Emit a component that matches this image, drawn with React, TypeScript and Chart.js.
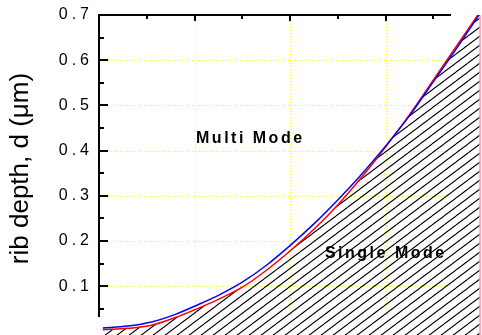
import React, { useEffect, useRef } from 'react';
import { Chart, registerables } from 'chart.js';

Chart.register(...registerables);

// ---- data ----
const widthValues = [0.04, 0.3, 0.55, 0.8, 1.0, 1.25, 1.5, 1.75, 2.0, 2.25, 2.5, 2.75, 3.0, 3.25, 3.5, 3.75, 3.985];
const blueDepth = [0.008, 0.012, 0.021, 0.038, 0.056, 0.08, 0.109, 0.146, 0.19, 0.238, 0.291, 0.348, 0.41, 0.477, 0.552, 0.628, 0.702];
const redDepth = [0.004, 0.007, 0.014, 0.031, 0.048, 0.071, 0.098, 0.135, 0.178, 0.226, 0.28, 0.341, 0.408, 0.479, 0.556, 0.633, 0.706];
const edgeWidth = [3.99, 3.99];
const edgeDepth = [-0.02, 0.71];

const yTickValues = [0.1, 0.2, 0.3, 0.4, 0.5, 0.6, 0.7];
const yTickLabels = ['0.1', '0.2', '0.3', '0.4', '0.5', '0.6', '0.7'];
const yMinorTicks = [0.05, 0.15, 0.25, 0.35, 0.45, 0.55, 0.65];
const xGridValues = [1, 2, 3];
const xMinorTicks = [0.5, 1.5, 2.5, 3.5];

const yTitle = 'rib depth, d (\u03bcm)';
const multiLabel = 'Multi Mode';
const singleLabel = 'Single Mode';

// ---- layout constants (not data) ----
const Y_MIN = -0.0077;
const Y_MAX = 0.7;
const X_MIN = 0;
const X_MAX = 4;
const FRAME_BOTTOM = 0.033; // where axis line / vertical grid stop
const GRID_RIGHT = 3.665; // where horizontal grid stops
const TOP_RIGHT = 3.686; // where top frame line stops
const MULTI_POS = { x: 1.016, y: 0.4164 };
const SINGLE_POS = { x: 2.366, y: 0.163 };

function makeHatch(): CanvasPattern | string {
  const c = document.createElement('canvas');
  c.width = 12;
  c.height = 9;
  const g = c.getContext('2d');
  if (!g) return '#000';
  g.strokeStyle = '#000';
  g.lineWidth = 1.1;
  for (const k of [0, 1, 2]) {
    g.beginPath();
    g.moveTo(0, 9 * k);
    g.lineTo(12, 9 * k - 9);
    g.stroke();
  }
  const p = g.createPattern(c, 'repeat');
  return p || '#000';
}

const framePlugin = {
  id: 'frame',
  beforeDraw(chart: any) {
    chart.ctx.letterSpacing = '4px';
  },
  beforeDatasetsDraw(chart: any) {
    const { ctx, scales } = chart;
    const x = scales.x;
    const y = scales.y;
    const left = Math.round(x.getPixelForValue(0));
    const top = Math.round(y.getPixelForValue(Y_MAX));
    const bottom = Math.round(y.getPixelForValue(FRAME_BOTTOM));
    const gridRight = Math.round(x.getPixelForValue(GRID_RIGHT));
    ctx.save();
    ctx.strokeStyle = '#ffff00';
    ctx.lineWidth = 1;
    ctx.setLineDash([1, 2]);
    for (const v of xGridValues) {
      const px = Math.round(x.getPixelForValue(v)) + 0.5;
      ctx.beginPath();
      ctx.moveTo(px, top);
      ctx.lineTo(px, bottom);
      ctx.stroke();
    }
    for (const v of yTickValues) {
      if (v >= Y_MAX) continue;
      const py = Math.round(y.getPixelForValue(v)) + 0.5;
      ctx.beginPath();
      ctx.moveTo(left, py);
      ctx.lineTo(gridRight, py);
      ctx.stroke();
    }
    ctx.restore();
  },
  afterDatasetsDraw(chart: any) {
    const { ctx, scales } = chart;
    const x = scales.x;
    const y = scales.y;
    const left = Math.round(x.getPixelForValue(0));
    const top = Math.round(y.getPixelForValue(Y_MAX));
    const bottom = Math.round(y.getPixelForValue(FRAME_BOTTOM));
    const topRight = Math.round(x.getPixelForValue(TOP_RIGHT));
    ctx.save();
    ctx.strokeStyle = '#000';
    ctx.lineWidth = 2;
    ctx.beginPath();
    ctx.moveTo(left, bottom);
    ctx.lineTo(left, top);
    ctx.lineTo(topRight, top);
    ctx.stroke();
    ctx.lineWidth = 2;
    for (const v of yTickValues) {
      const py = Math.round(y.getPixelForValue(v));
      ctx.beginPath();
      ctx.moveTo(left, py);
      ctx.lineTo(left + 9, py);
      ctx.stroke();
    }
    for (const v of yMinorTicks) {
      const py = Math.round(y.getPixelForValue(v));
      ctx.beginPath();
      ctx.moveTo(left, py);
      ctx.lineTo(left + 5, py);
      ctx.stroke();
    }
    for (const v of xGridValues) {
      const px = Math.round(x.getPixelForValue(v));
      ctx.beginPath();
      ctx.moveTo(px, top);
      ctx.lineTo(px, top + 6);
      ctx.stroke();
    }
    for (const v of xMinorTicks) {
      const px = Math.round(x.getPixelForValue(v));
      if (px > topRight) continue;
      ctx.beginPath();
      ctx.moveTo(px, top);
      ctx.lineTo(px, top + 4);
      ctx.stroke();
    }
    ctx.fillStyle = '#000';
    ctx.letterSpacing = '2.5px';
    ctx.font = 'bold 16px "Liberation Sans", Arial, sans-serif';
    ctx.textAlign = 'left';
    ctx.textBaseline = 'alphabetic';
    ctx.fillText(multiLabel, x.getPixelForValue(MULTI_POS.x), y.getPixelForValue(MULTI_POS.y));
    ctx.fillText(singleLabel, x.getPixelForValue(SINGLE_POS.x), y.getPixelForValue(SINGLE_POS.y));
    ctx.restore();
  },
  afterDraw(chart: any) {
    const { ctx } = chart;
    ctx.save();
    ctx.letterSpacing = '0px';
    ctx.fillStyle = '#000';
    ctx.font = '26px "Liberation Sans", Arial, sans-serif';
    ctx.textAlign = 'center';
    ctx.textBaseline = 'alphabetic';
    ctx.translate(28, 168.5);
    ctx.rotate(-Math.PI / 2);
    ctx.fillText(yTitle, 0, 0);
    ctx.restore();
  },
};

export default function App() {
  const ref = useRef<HTMLCanvasElement | null>(null);
  useEffect(() => {
    if (!ref.current) return;
    const hatch = makeHatch();
    const chart = new Chart(ref.current, {
      type: 'line',
      data: {
        datasets: [
          {
            label: 'blue',
            data: widthValues.map((w, i) => ({ x: w, y: blueDepth[i] })),
            borderColor: '#0000ff',
            borderWidth: 1.5,
            pointRadius: 0,
            fill: false,
            cubicInterpolationMode: 'monotone',
            order: 1,
          },
          {
            label: 'red',
            data: widthValues.map((w, i) => ({ x: w, y: redDepth[i] })),
            borderColor: '#ff0000',
            backgroundColor: hatch as any,
            borderWidth: 1.5,
            pointRadius: 0,
            fill: 'start',
            cubicInterpolationMode: 'monotone',
            order: 2,
          },
          {
            label: 'edge',
            data: edgeWidth.map((w, i) => ({ x: w, y: edgeDepth[i] })),
            borderColor: '#ff6666',
            borderWidth: 1,
            pointRadius: 0,
            fill: false,
            order: 3,
          },
        ],
      },
      options: {
        responsive: false,
        animation: false,
        devicePixelRatio: 1,
        layout: { padding: { left: 0, right: 1, top: 15, bottom: 0 } },
        plugins: { legend: { display: false }, tooltip: { enabled: false } },
        scales: {
          x: {
            type: 'linear',
            min: X_MIN,
            max: X_MAX,
            display: false,
          },
          y: {
            type: 'linear',
            min: Y_MIN,
            max: Y_MAX,
            grid: { display: false },
            border: { display: false },
            afterBuildTicks: (scale: any) => {
              scale.ticks = yTickValues.map((v) => ({ value: v }));
            },
            afterFit: (scale: any) => {
              scale.width = 99;
              scale.paddingTop = 0;
              scale.paddingBottom = 0;
            },
            ticks: {
              padding: -2,
              color: '#000',
              font: { family: '"Liberation Sans", Arial, sans-serif', size: 16 },
              callback: (v: any) => {
                const i = yTickValues.findIndex((t) => Math.abs(t - Number(v)) < 1e-6);
                return i >= 0 ? yTickLabels[i] : '';
              },
            },
          },
        },
      },
      plugins: [framePlugin],
    });
    return () => chart.destroy();
  }, []);
  return (
    <div style={{ position: 'fixed', left: 0, top: 0, width: 482, height: 335, background: '#fff' }}>
      <canvas ref={ref} width={482} height={335} />
    </div>
  );
}
